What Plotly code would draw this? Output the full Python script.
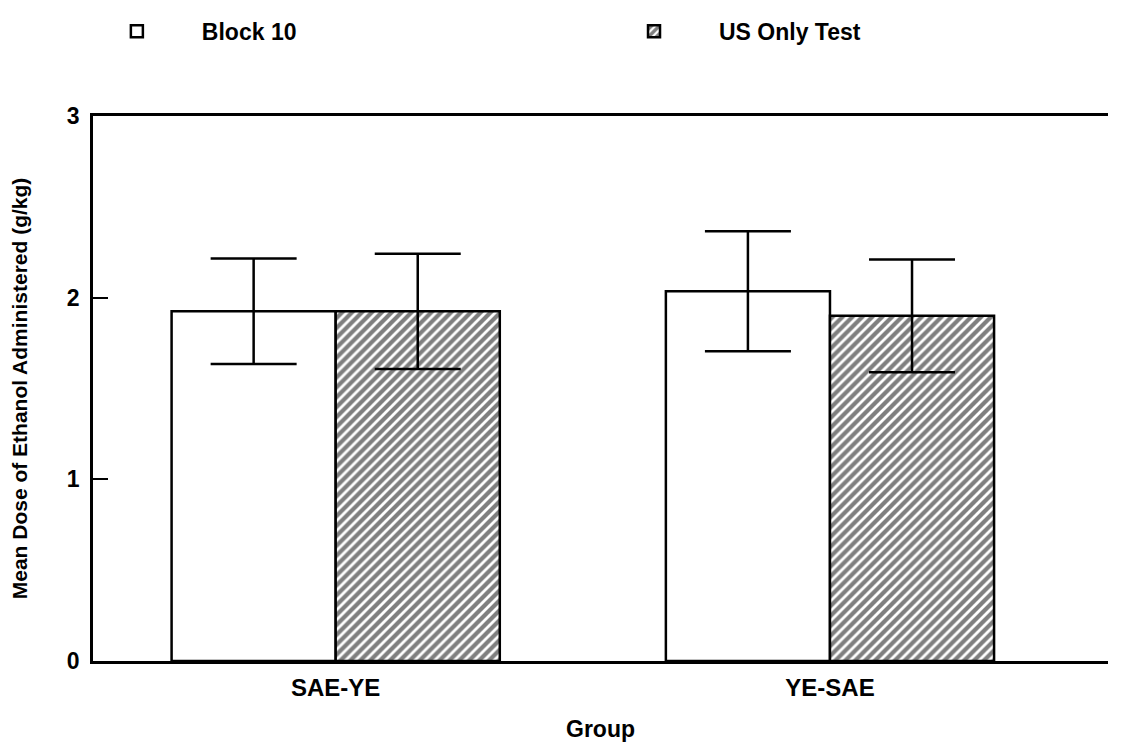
import plotly.graph_objects as go

groups = ["SAE-YE", "YE-SAE"]
group_pos = [0, 1]
block10 = [1.925, 2.035]
block10_err = [0.29, 0.33]
us_only = [1.925, 1.90]
us_only_err = [0.317, 0.31]
y_ticks = [0, 1, 2, 3]

FONT = "Liberation Sans, Arial, sans-serif"
BOLD = dict(family=FONT, weight="bold", color="black")

fig = go.Figure()
fig.add_trace(go.Bar(
    name="Block 10", x=group_pos, y=block10, legend="legend", showlegend=True,
    marker=dict(color="white", line=dict(color="black", width=2.5)),
    error_y=dict(type="data", array=block10_err, color="black", thickness=2.5, width=43),
))
fig.add_trace(go.Bar(
    name="US Only Test", x=group_pos, y=us_only, legend="legend2", showlegend=True,
    marker=dict(color="white", line=dict(color="black", width=2.5),
                pattern=dict(shape="/", fgcolor="black", bgcolor="white", size=7, solidity=0.6)),
    error_y=dict(type="data", array=us_only_err, color="black", thickness=2.5, width=43),
))

leg_common = dict(orientation="h", xref="container", yref="container",
                  yanchor="middle", y=0.958, xanchor="left",
                  itemwidth=120, font=dict(size=23, **BOLD), bgcolor="rgba(0,0,0,0)")

fig.update_layout(
    width=1123, height=746,
    margin=dict(l=93, r=15, t=116, b=85),
    paper_bgcolor="white", plot_bgcolor="white",
    showlegend=True,
    barmode="group", bargap=0.336, bargroupgap=0,
    font=dict(size=23, **BOLD),
    legend=dict(x=0.064, **leg_common),
    legend2=dict(x=0.5245, **leg_common),
    xaxis=dict(range=[-0.491, 1.5625], tickvals=group_pos, ticktext=groups,
               showline=True, linecolor="black", linewidth=2.5, mirror=True,
               showgrid=False, zeroline=False, ticks="", ticklabelstandoff=3,
               tickfont=dict(size=24, **BOLD), automargin=False,
               title=dict(text="Group", font=dict(size=23, **BOLD), standoff=22)),
    yaxis=dict(range=[0, 3], tickvals=y_ticks,
               showline=True, linecolor="black", linewidth=2.5, mirror=False,
               showgrid=False, zeroline=False, ticks="inside", ticklen=15, tickwidth=2,
               tickcolor="black", tickfont=dict(size=23, **BOLD), ticklabelstandoff=6,
               automargin=False,
               title=dict(text="Mean Dose of Ethanol Administered (g/kg)",
                          font=dict(size=21, **BOLD), standoff=34)),
)

fig.write_html("out.html")
